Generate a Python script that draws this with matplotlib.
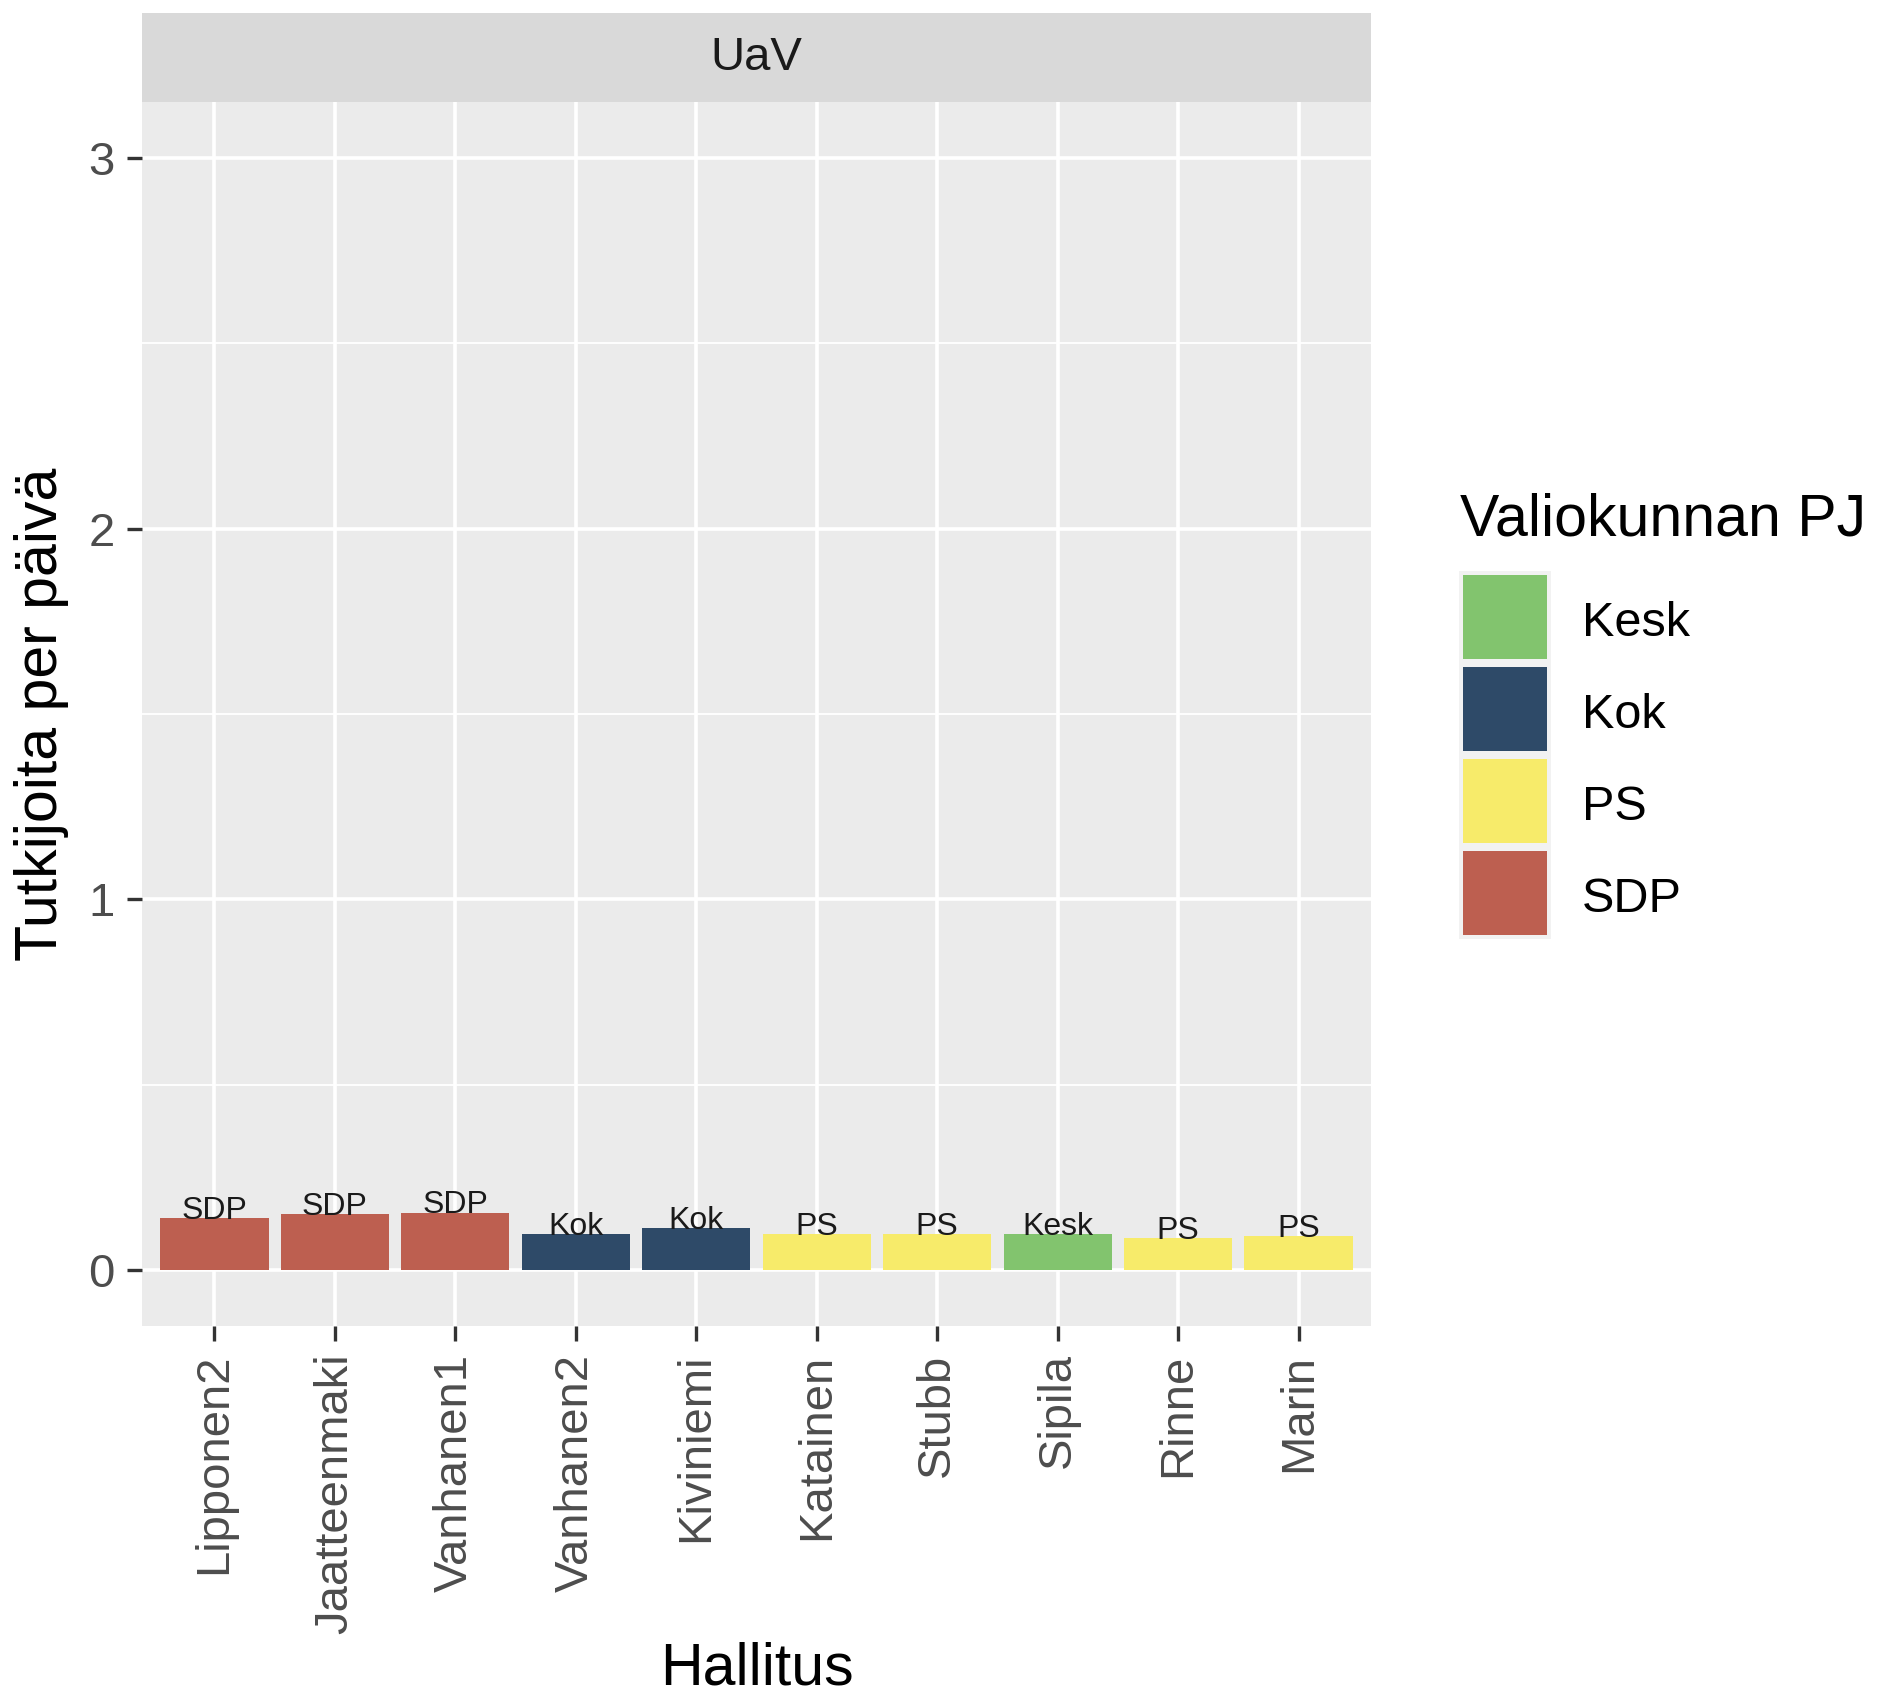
import matplotlib
matplotlib.use("Agg")
import matplotlib.pyplot as plt

plt.rcParams['font.family'] = ['Liberation Sans', 'DejaVu Sans']

hallitus = ["Lipponen2", "Jaatteenmaki", "Vanhanen1", "Vanhanen2", "Kiviniemi",
            "Katainen", "Stubb", "Sipila", "Rinne", "Marin"]
values = [0.140, 0.151, 0.156, 0.097, 0.113, 0.097, 0.097, 0.097, 0.086, 0.092]
pj = ["SDP", "SDP", "SDP", "Kok", "Kok", "PS", "PS", "Kesk", "PS", "PS"]
parties = ["Kesk", "Kok", "PS", "SDP"]
colors = {"Kesk": "#82C46E", "Kok": "#2E4A68", "PS": "#F7EB6A", "SDP": "#BD5F50"}
facet = "UaV"

W, H = 1887, 1702
fig = plt.figure(figsize=(W / 100, H / 100), dpi=100)

def fx(px): return px / W
def fy(py): return 1 - py / H

L, R, T, B = 142, 1371, 102, 1326
ax = fig.add_axes([fx(L), fy(B), fx(R) - fx(L), fy(T) - fy(B)])
ax.set_facecolor("#EBEBEB")
for s in ax.spines.values():
    s.set_visible(False)

x = list(range(1, len(hallitus) + 1))
ax.set_xlim(0.4, len(hallitus) + 0.6)
ax.set_ylim(-0.15, 3.15)

# grid
for yv in [0.5, 1.5, 2.5]:
    ax.axhline(yv, color="white", lw=1.3, zorder=0)
for yv in [0, 1, 2, 3]:
    ax.axhline(yv, color="white", lw=2.6, zorder=0)
for xv in x:
    ax.axvline(xv, color="white", lw=2.6, zorder=0)

ax.bar(x, values, width=0.9, color=[colors[p] for p in pj], zorder=2)
for xi, v, p in zip(x, values, pj):
    ax.text(xi, v - 0.02, p, ha="center", va="bottom", fontsize=23, color="#1A1A1A", zorder=3)

ax.set_yticks([0, 1, 2, 3])
ax.set_yticklabels(["0", "1", "2", "3"])
ax.set_xticks(x)
ax.set_xticklabels(hallitus, rotation=90, ha="center", va="top")
ax.tick_params(axis="both", length=10.8, width=2.4, color="#333333", labelcolor="#4D4D4D",
               labelsize=34, pad=9)
ax.set_xlabel("Hallitus", fontsize=42.5, color="black", va="center")
ax.set_ylabel("Tutkijoita per päivä", fontsize=42.5, color="black", va="center")
ax.xaxis.set_label_coords(0.5, -0.280)
ax.yaxis.set_label_coords(-0.0814, 0.5)

# strip
sax = fig.add_axes([fx(L), fy(T), fx(R) - fx(L), fy(13) - fy(T)])
sax.set_facecolor("#D9D9D9")
sax.set_xticks([]); sax.set_yticks([])
for s in sax.spines.values():
    s.set_visible(False)
sax.text(0.5, 0.5, facet, ha="center", va="center", fontsize=34, color="#1A1A1A",
         transform=sax.transAxes)

# legend
fig.text(fx(1460), fy(520), "Valiokunnan PJ", fontsize=42.5, ha="left", va="center")
key_tops = [575, 667, 759, 851]
for p, t in zip(parties, key_tops):
    fig.add_artist(plt.Rectangle((fx(1459), fy(t + 88)), fx(1551) - fx(1459), fy(t - 4) - fy(t + 88),
                                 transform=fig.transFigure, facecolor="#F2F2F2", edgecolor="none"))
    fig.add_artist(plt.Rectangle((fx(1463), fy(t + 84)), fx(1547) - fx(1463), fy(t) - fy(t + 84),
                                 transform=fig.transFigure, facecolor=colors[p], edgecolor="none"))
    fig.text(fx(1582), fy(t + 48), p, fontsize=35, ha="left", va="center")

fig.savefig("out.png", dpi=100)
